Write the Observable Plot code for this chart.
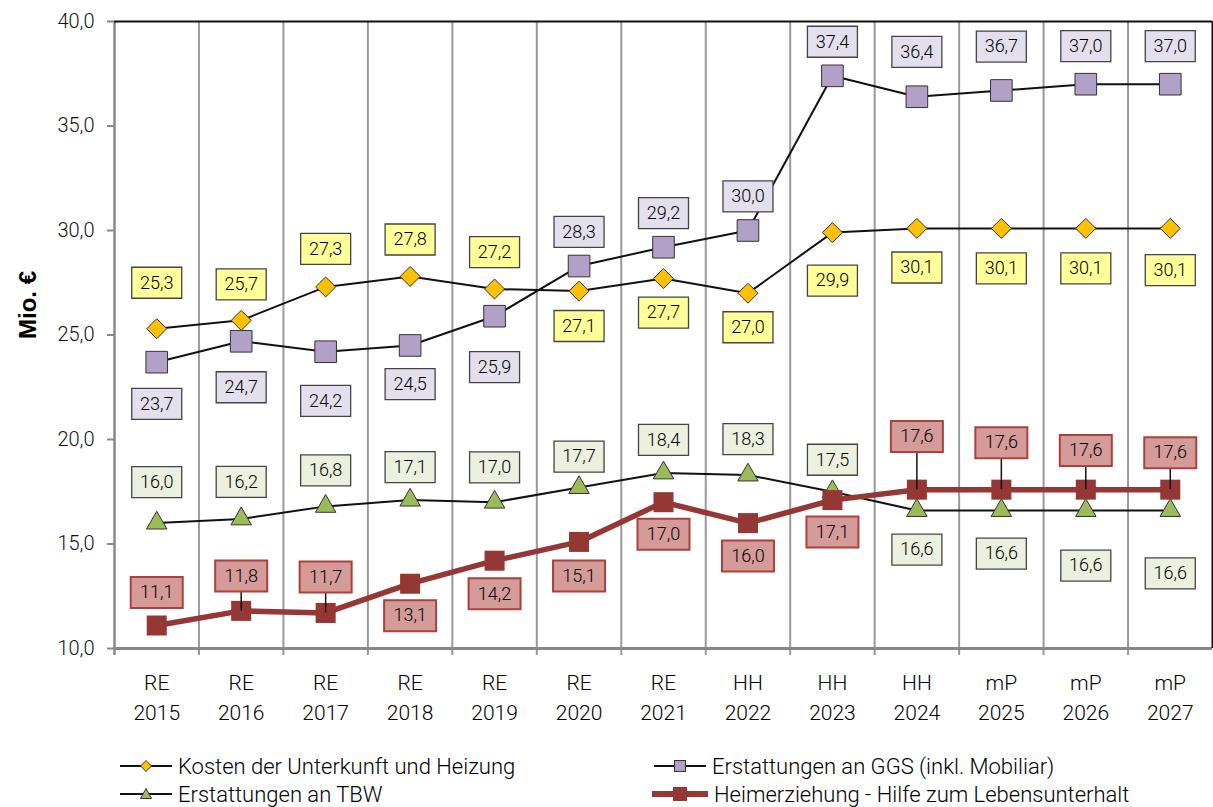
<!DOCTYPE html>
<html>
<head>
<meta charset="utf-8">
<script src="https://cdn.jsdelivr.net/npm/d3@7"></script>
<script src="https://cdn.jsdelivr.net/npm/@observablehq/plot@0.6"></script>
<style>
  html, body { margin: 0; padding: 0; background: #fff; }
  #chart { width: 1213px; }
  #legend { position: relative; width: 1213px; height: 67px; font-family: Roboto, sans-serif; font-weight: 300; font-size: 22px; color: #000; }
  .item { position: absolute; display: flex; align-items: center; height: 28px; white-space: nowrap; }
  .item svg { margin-right: 6px; }
</style>
</head>
<body>
<div id="chart"></div>
<div id="legend"></div>
<script>
// ---- data ----
const catTypes = ["RE","RE","RE","RE","RE","RE","RE","HH","HH","HH","mP","mP","mP"];
const years = [2015,2016,2017,2018,2019,2020,2021,2022,2023,2024,2025,2026,2027];
const yTicks = [10,15,20,25,30,35,40];

const seriesNames = [
  "Kosten der Unterkunft und Heizung",
  "Erstattungen an GGS (inkl. Mobiliar)",
  "Erstattungen an TBW",
  "Heimerziehung - Hilfe zum Lebensunterhalt"
];
const kosten = [25.3,25.7,27.3,27.8,27.2,27.1,27.7,27.0,29.9,30.1,30.1,30.1,30.1];
const ggs    = [23.7,24.7,24.2,24.5,25.9,28.3,29.2,30.0,37.4,36.4,36.7,37.0,37.0];
const tbw    = [16.0,16.2,16.8,17.1,17.0,17.7,18.4,18.3,17.5,16.6,16.6,16.6,16.6];
const heim   = [11.1,11.8,11.7,13.1,14.2,15.1,17.0,16.0,17.1,17.6,17.6,17.6,17.6];

// label placement (shift of the value label from its point, in value units)
const kostenShift = [2.2,1.72,1.82,1.77,1.77,-1.67,-1.63,-1.63,-2.3,-1.87,-1.91,-1.91,-2.0];
const ggsShift    = [-2.0,-2.2,-2.35,-1.85,-2.44,1.63,1.63,1.63,1.63,2.15,2.1,1.82,1.82];
const tbwShift    = [1.96,1.77,1.72,1.58,1.67,1.48,1.58,1.72,1.53,-1.87,-2.06,-2.63,-3.01];
const heimShift   = [1.58,1.67,1.72,-1.53,-1.58,-1.63,-1.53,-1.58,-1.53,2.54,2.25,1.87,1.77];
const heimLeader  = [false,true,true,false,false,false,false,false,false,true,true,true,true];

// ---- helpers ----
const fmt = v => v.toFixed(1).replace(".", ",");
const rows = (vals, shifts, leaders) => vals.map((v, i) => ({i, v, s: shifts[i], leader: leaders ? leaders[i] : false}));
const boxSym = (w, h) => ({draw(ctx) { ctx.rect(-w / 2, -h / 2, w, h); }});

const K = rows(kosten, kostenShift);
const G = rows(ggs, ggsShift);
const T = rows(tbw, tbwShift);
const H = rows(heim, heimShift, heimLeader);
const idx = years.map((_, i) => i);
const bounds = years.slice(1).map((_, i) => i + 0.5);

const labelMarks = (data, fill, stroke, sw, w, h) => [
  Plot.dot(data, {x: "i", y: d => d.v + d.s, symbol: boxSym(w, h), r: 5, fill, stroke, strokeWidth: sw}),
  Plot.text(data, {x: "i", y: d => d.v + d.s, text: d => fmt(d.v), fontSize: 18, fontWeight: 300, fill: "#000"})
];

const chart = Plot.plot({
  width: 1213,
  height: 740,
  marginLeft: 114,
  marginRight: 1,
  marginTop: 21,
  marginBottom: 92,
  style: {fontFamily: "Roboto, sans-serif", fontSize: "20px", fontWeight: 300, color: "#111", background: "#fff", overflow: "visible"},
  x: {domain: [-0.5, 12.5], axis: null},
  y: {domain: [10, 40]},
  marks: [
    // vertical gridlines between categories
    Plot.ruleX(bounds, {x: d => d, y1: 40, y2: 10, stroke: "#999", strokeWidth: 2, insetBottom: -7}),
    // frame
    Plot.ruleX([-0.5], {x: d => d, y1: 40, y2: 10, stroke: "#888", strokeWidth: 2.5, insetBottom: -7}),
    Plot.ruleY([10], {y: d => d, stroke: "#888", strokeWidth: 3}),
    Plot.ruleY([40], {y: d => d, x1: -0.5, x2: 12.5, stroke: "#111", strokeWidth: 2}),
    Plot.ruleX([12.5], {x: d => d, y1: 40, y2: 10, stroke: "#111", strokeWidth: 2}),
    Plot.axisY({ticks: yTicks, tickFormat: fmt, tickSize: 7, tickPadding: 13, stroke: "#888", strokeWidth: 2, fill: "#111", fontSize: 20, label: null}),
    // series
    Plot.line(K, {x: "i", y: "v", stroke: "#111", strokeWidth: 2}),
    Plot.dot(K, {x: "i", y: "v", symbol: "diamond2", r: 9, fill: "#FFC000", stroke: "#333", strokeWidth: 1}),
    Plot.line(G, {x: "i", y: "v", stroke: "#111", strokeWidth: 2}),
    Plot.dot(G, {x: "i", y: "v", symbol: "square", r: 12.2, fill: "#B1A0C7", stroke: "#333", strokeWidth: 1}),
    Plot.line(T, {x: "i", y: "v", stroke: "#111", strokeWidth: 2}),
    Plot.dot(T, {x: "i", y: "v", symbol: "triangle", r: 7.6, fill: "#9BBB59", stroke: "#333", strokeWidth: 1}),
    Plot.line(H, {x: "i", y: "v", stroke: "#953735", strokeWidth: 5.5}),
    Plot.dot(H, {x: "i", y: "v", symbol: "square", r: 11.3, fill: "#953735"}),
    // leader lines
    Plot.ruleX(H.filter(d => d.leader), {x: "i", y1: "v", y2: d => d.v + d.s, stroke: "#111", strokeWidth: 1.5}),
    // value labels
    ...labelMarks(K, "#FFFF99", "#444", 1.3, 50, 31),
    ...labelMarks(G, "#E4DFEC", "#444", 1.3, 50, 31),
    ...labelMarks(T, "#EBF1DE", "#444", 1.3, 50, 31),
    ...labelMarks(H, "#D49B99", "#A9413F", 2, 52, 31),
    // x labels (two lines)
    Plot.text(idx, {x: d => d, y: () => 10, text: d => catTypes[d], dy: 35, fontSize: 21, fontWeight: 300, fill: "#000"}),
    Plot.text(idx, {x: d => d, y: () => 10, text: d => String(years[d]), dy: 65, fontSize: 21, fontWeight: 300, fill: "#000"}),
    // y title
    Plot.text(["Mio. €"], {frameAnchor: "left", dx: -86, dy: 4, rotate: -90, text: d => d, fontSize: 24, fontWeight: "bold", fontFamily: "Liberation Sans, Arial, sans-serif", fill: "#000"})
  ]
});
document.getElementById("chart").appendChild(chart);

// ---- legend ----
const swatches = [
  `<svg width="52" height="20"><line x1="0" y1="10" x2="52" y2="10" stroke="#111" stroke-width="2"/><polygon points="26,4.5 31.5,10 26,15.5 20.5,10" fill="#FFC000" stroke="#333" stroke-width="1"/></svg>`,
  `<svg width="52" height="20"><line x1="0" y1="10" x2="52" y2="10" stroke="#111" stroke-width="2"/><rect x="20.5" y="4.5" width="11" height="11" fill="#B1A0C7" stroke="#333" stroke-width="1"/></svg>`,
  `<svg width="52" height="20"><line x1="0" y1="10" x2="52" y2="10" stroke="#111" stroke-width="2"/><polygon points="26,4.5 31.5,14.5 20.5,14.5" fill="#9BBB59" stroke="#333" stroke-width="1"/></svg>`,
  `<svg width="56" height="20"><line x1="0" y1="10" x2="56" y2="10" stroke="#953735" stroke-width="6" stroke-linecap="round"/><rect x="21" y="3" width="14" height="14" fill="#953735"/></svg>`
];
const pos = [[120, 12], [654, 12], [120, 40], [652, 40]];
const legend = document.getElementById("legend");
seriesNames.forEach((name, k) => {
  const div = document.createElement("div");
  div.className = "item";
  div.style.left = pos[k][0] + "px";
  div.style.top = pos[k][1] + "px";
  div.innerHTML = swatches[k] + `<span>${name}</span>`;
  legend.appendChild(div);
});
</script>
</body>
</html>
